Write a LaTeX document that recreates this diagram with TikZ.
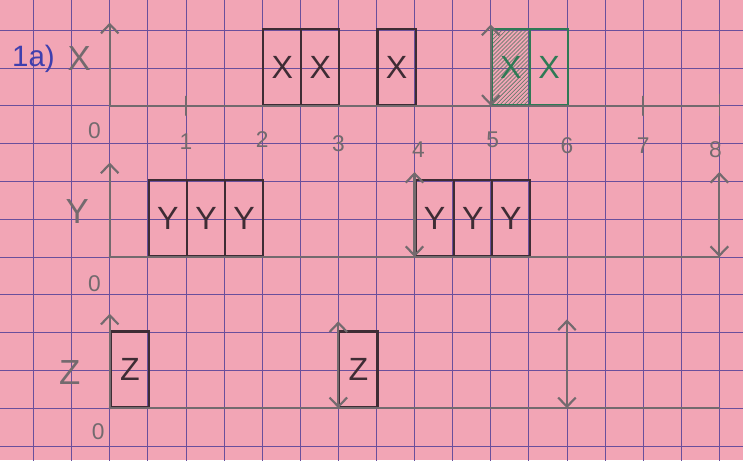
\documentclass[tikz,border=0pt]{standalone}
\usepackage{fontspec}
\setmainfont{Liberation Sans}
\usetikzlibrary{arrows.meta,patterns}
\definecolor{skPaper}{HTML}{F2A5B5}
\definecolor{skGrid}{HTML}{6A4F9C}
\definecolor{skPencil}{HTML}{736A6E}
\definecolor{skInk}{HTML}{3E2C34}
\definecolor{skGreen}{HTML}{2F7A55}
\definecolor{skBlue}{HTML}{3F3FAE}
\tikzset{
  gridline/.style={draw=skGrid,line width=.55pt},
  axis/.style={draw=skPencil,line width=1.6pt,line cap=round},
  upaxis/.style={axis,-{Straight Barb[length=2.4mm,width=4.6mm]}},
  twoway/.style={axis,{Straight Barb[length=2.4mm,width=4.6mm]}-{Straight Barb[length=2.4mm,width=4.6mm]}},
  tickmark/.style={axis,line width=1.2pt},
  cell/.style={draw=skInk,line width=1.6pt,anchor=south west,inner sep=0pt,
    minimum width=1cm,minimum height=1.984cm,text=skInk,
    font=\fontsize{24}{24}\selectfont},
  greencell/.style={cell,draw=skGreen,text=skGreen},
  hatched/.style={pattern=north east lines,pattern color=skGreen!55!skPencil},
  axislabel/.style={text=skPencil,font=\fontsize{26}{26}\selectfont},
  num/.style={text=skPencil,font=\fontsize{17}{17}\selectfont},
}
\begin{document}
\begin{tikzpicture}[x=1cm,y=0.992cm]
  \useasboundingbox[fill=skPaper] (-0.879,-0.370) rectangle (18.62,11.80);
  \draw[gridline,step=1] (-1,-1) grid (19,12);
  % X row
  \coordinate (ox) at (2,9);
  \coordinate (ex) at (18,9);
  \node[text=skBlue,font=\fontsize{22}{26}\selectfont] (part) at (0.0,10.25) {1a)};
  \node[axislabel] (xlab) at (1.2,10.25) {X};
  \node[cell] (x1) at (6,9) {X};
  \node[cell] (x2) at (7,9) {X};
  \node[cell] (x3) at (9,9) {X};
  \node[greencell,hatched] (x4) at (12,9) {X};
  \node[greencell] (x5) at (13,9) {X};
  \draw[axis] (ox) -- (ex);
  \draw[upaxis] (ox) -- ++(0,2.2);
  \draw[twoway] (x4.south west) -- ++(0,2.15);
  \draw[tickmark] (4,8.75) -- (4,9.25);
  \draw[tickmark] (16,8.75) -- (16,9.25);
  \draw[tickmark] (18,8.75) -- (18,9.3);
  \node[num] (n0) at (1.6,8.35) {0};
  \node[num] (n1) at (4.0,8.05) {1};
  \node[num] (n2) at (6.0,8.1) {2};
  \node[num] (n3) at (8.0,8.0) {3};
  \node[num] (n4) at (10.1,7.85) {4};
  \node[num] (n5) at (12.05,8.1) {5};
  \node[num] (n6) at (14.0,7.95) {6};
  \node[num] (n7) at (16.0,7.95) {7};
  \node[num] (n8) at (17.9,7.85) {8};
  % Y row
  \coordinate (oy) at (2,5);
  \coordinate (ey) at (18,5);
  \node[axislabel] (ylab) at (1.15,6.2) {Y};
  \node[cell] (y1) at (3,5) {Y};
  \node[cell] (y2) at (4,5) {Y};
  \node[cell] (y3) at (5,5) {Y};
  \node[cell] (y4) at (10,5) {Y};
  \node[cell] (y5) at (11,5) {Y};
  \node[cell] (y6) at (12,5) {Y};
  \draw[axis] (oy) -- (ey);
  \draw[upaxis] (oy) -- ++(0,2.5);
  \draw[twoway] (y4.south west) -- ++(0,2.25);
  \draw[twoway] (ey) -- ++(0,2.25);
  \node[num] (m0) at (1.6,4.3) {0};
  % Z row
  \coordinate (oz) at (2,1);
  \coordinate (ez) at (18,1);
  \node[axislabel] (zlab) at (0.95,1.95) {Z};
  \node[cell] (z1) at (2,1) {Z};
  \node[cell] (z2) at (8,1) {Z};
  \coordinate (z3) at (14,1);
  \draw[axis] (oz) -- (ez);
  \draw[upaxis] (oz) -- ++(0,2.5);
  \draw[twoway] (z2.south west) -- ++(0,2.3);
  \draw[twoway] (z3) -- ++(0,2.35);
  \node[num] (k0) at (1.7,0.37) {0};
\end{tikzpicture}
\end{document}
